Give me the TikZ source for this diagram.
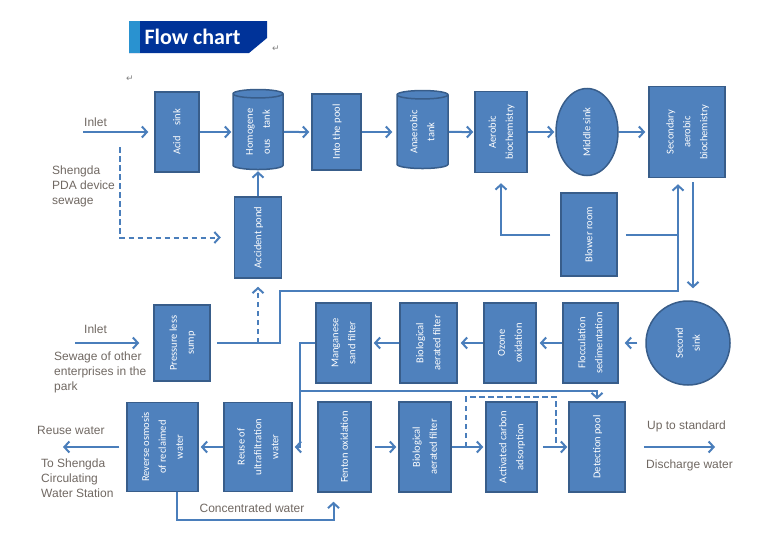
\documentclass[tikz,border=0pt]{standalone}
\usepackage{fontspec}
\setmainfont{Liberation Sans}
\newfontfamily\boxfont{Carlito}
\newfontfamily\symfont{DejaVu Sans}
\usetikzlibrary{arrows.meta,shapes.geometric,positioning}
\definecolor{boxblue}{RGB}{79,129,189}
\definecolor{boxline}{RGB}{56,93,138}
\definecolor{flowblue}{RGB}{74,126,187}
\definecolor{labelgray}{RGB}{112,104,98}
\definecolor{titleblue}{RGB}{0,51,153}
\definecolor{titlestrip}{RGB}{41,146,208}
\definecolor{tanktop}{RGB}{167,191,222}
\newcommand{\vtext}[1]{\rotatebox{90}{\renewcommand{\arraystretch}{1.35}\begin{tabular}{@{}c@{}}#1\end{tabular}}}
\tikzset{
    proc/.style={draw=boxline,fill=boxblue,line width=1.5pt,text=white,inner sep=0pt,
        font=\boxfont\fontsize{10.5}{12.5}\selectfont},
    tank/.style={proc,cylinder,shape border rotate=90,cylinder uses custom fill,
        cylinder body fill=boxblue,cylinder end fill=tanktop,aspect=0.25},
    sink/.style={proc,ellipse},
    pipe/.style={draw=flowblue,line width=2pt},
    flow/.style={pipe,-{Straight Barb[length=5pt,width=11pt]}},
    dash line/.style={dash pattern=on 5.5pt off 3.5pt},
    note/.style={text=labelgray,inner sep=1pt,align=left,font=\fontsize{12}{15}\selectfont},
    retmark/.style={text=gray,inner sep=0pt,font=\symfont\fontsize{9}{9}\selectfont},
}
\begin{document}
\begin{tikzpicture}[x=1pt,y=-1pt]
\useasboundingbox (0,0) rectangle (770,538);
\fill[titleblue] (129,21) -- (267,21) -- (267,38) -- (249,53) -- (129,53) -- cycle;
\fill[titlestrip] (129,21) rectangle (140,53);
\node[text=white,font=\boxfont\bfseries\fontsize{22}{24}\selectfont] (title) at (192.5,37) {Flow chart};
\node[retmark] (ret1) at (276,49) {↵};
\node[retmark] (ret2) at (130,79) {↵};

\node[proc,minimum width=44pt,minimum height=80pt] (acid) at (177,132) {\vtext{Acid\quad sink}};
\node[tank,minimum width=50pt,minimum height=80pt] (homog) at (258,132) {\vtext{Homogene\\ous\quad tank}};
\node[proc,minimum width=49pt,minimum height=76pt] (into) at (336.5,132) {\vtext{Into the pool}};
\node[tank,minimum width=51pt,minimum height=78pt] (anaer) at (422.5,132) {\vtext{Anaerobic\\tank}};
\node[proc,minimum width=52pt,minimum height=81pt] (aerobic) at (501,132) {\vtext{Aerobic\\biochemistry}};
\node[sink,minimum width=62pt,minimum height=87pt] (middle) at (587,132) {\vtext{Middle sink}};
\node[proc,minimum width=76pt,minimum height=91pt] (secondary) at (687,132) {\vtext{Secondary\\aerobic\\biochemistry}};
\node[proc,minimum width=56pt,minimum height=83pt] (blower) at (589,234.5) {\vtext{Blower room}};
\node[proc,minimum width=47pt,minimum height=81pt] (accident) at (258,237.5) {\vtext{Accident pond}};

\node[proc,minimum width=56pt,minimum height=76pt] (sump) at (182,343) {\vtext{Pressure less\\sump}};
\node[proc,minimum width=55pt,minimum height=80pt] (mang) at (343.5,343) {\vtext{Manganese\\sand filter}};
\node[proc,minimum width=57pt,minimum height=80pt] (bioA) at (428.5,343) {\vtext{Biological\\aerated filter}};
\node[proc,minimum width=52pt,minimum height=80pt] (ozone) at (510,343) {\vtext{Ozone\\oxidation}};
\node[proc,minimum width=55pt,minimum height=80pt] (floc) at (590.5,343) {\vtext{Flocculation\\sedimentation}};
\node[sink,minimum width=84pt,minimum height=84pt] (second) at (688,343) {\vtext{Second\\sink}};

\node[proc,minimum width=71pt,minimum height=89pt] (RO) at (162.5,447) {\vtext{Reverse osmosis\\of reclaimed\\water}};
\node[proc,minimum width=68pt,minimum height=89pt] (UF) at (258,447) {\vtext{Reuse of\\ultrafiltration\\water}};
\node[proc,minimum width=53pt,minimum height=90pt] (fenton) at (344.5,447) {\vtext{Fenton oxidation}};
\node[proc,minimum width=52pt,minimum height=90pt] (bioB) at (425,447) {\vtext{Biological\\aerated filter}};
\node[proc,minimum width=51pt,minimum height=90pt] (carbon) at (511.5,447) {\vtext{Activated carbon\\adsorption}};
\node[proc,minimum width=56pt,minimum height=90pt] (detect) at (597,447) {\vtext{Detection pool}};

\node[note,anchor=west] (inletA) at (83,122) {Inlet};
\node[note,anchor=north west] (pdaSrc) at (51,165) {Shengda\\PDA device\\sewage};
\node[note,anchor=west] (inletB) at (83,329) {Inlet};
\node[note,anchor=north west] (parkSrc) at (53,351) {Sewage of other\\enterprises in the\\park};
\node[note,anchor=west] (reuseLbl) at (36,430) {Reuse water};
\node[note,anchor=north west] (stationLbl) at (40,458) {To Shengda\\Circulating\\Water Station};
\node[note,anchor=west] (stdLbl) at (646,426) {Up to standard};
\node[note,anchor=west] (dischLbl) at (645,465) {Discharge water};
\node[note] (concLbl) at (252,508) {Concentrated water};

\coordinate (inA) at (83,132);
\coordinate (pdaTop) at (120,147);
\coordinate (secIn) at ([xshift=-9pt]secondary.south);
\coordinate (sumpBend) at (280,291);
\coordinate (inB) at (75,343);
\coordinate (mangBend) at (300,391);
\coordinate (reuseEnd) at (63,447);
\coordinate (outEnd) at (715,447);
\coordinate (bypA) at (466,447);
\coordinate (bypB) at (556,447);
\coordinate (concA) at ([xshift=14pt]RO.south);
\coordinate (concB) at ([xshift=-11pt]fenton.south);

\draw[flow,shorten >=6pt] (inA) -- (acid);
\draw[flow,shorten >=1pt] (acid) -- (homog);
\draw[flow,shorten >=2pt] (homog) -- (into);
\draw[flow,shorten >=4pt] (into) -- (anaer);
\draw[flow,shorten >=1pt] (anaer) -- (aerobic);
\draw[flow,shorten >=1pt] (aerobic) -- (middle);
\draw[flow,shorten >=3pt] (middle) -- (secondary);
\draw[flow,shorten <=10pt,shorten >=10pt] (blower.west) -| (aerobic);
\draw[pipe,shorten <=8pt] (blower.east) -- (blower.east -| secIn);
\draw[flow,shorten <=6pt,shorten >=6pt] (sump) -| (sumpBend) -| (secIn);
\draw[flow,dash line,shorten >=8pt] (accident |- sump) -- (accident);
\draw[flow,dash line,shorten >=13pt] (pdaTop) |- (accident);
\draw[flow,shorten >=1pt] (accident) -- (homog);
\draw[flow,shorten <=4pt,shorten >=12pt] ([xshift=6pt]secondary.south) -- ([xshift=5pt]second.north);

\draw[flow,shorten >=14pt] (inB) -- (sump);
\draw[flow,shorten <=8pt,shorten >=6pt] (second) -- (floc);
\draw[flow,shorten >=3pt] (floc) -- (ozone);
\draw[flow,shorten >=3pt] (ozone) -- (bioA);
\draw[flow,shorten >=2pt] (bioA) -- (mang);
\draw[flow,shorten >=2pt] (mang) -| (mangBend) |- (UF);
\draw[flow,shorten >=2pt] (mangBend) -| (detect);

\draw[flow,shorten >=2pt] (UF) -- (RO);
\draw[flow,shorten <=7pt] (RO) -- (reuseEnd);
\draw[flow,shorten <=3pt,shorten >=2pt] (fenton) -- (bioB);
\draw[flow,shorten >=2pt] (bioB) -- (carbon);
\draw[flow,shorten <=5pt,shorten >=1pt] (carbon) -- (detect);
\draw[pipe,dash line] (bypA) -- ++(0,-50) -| (bypB);
\draw[flow,shorten <=18pt] (detect) -- (outEnd);
\draw[flow,shorten >=9pt] (concA) -- ++(0,28) -| (concB);
\end{tikzpicture}
\end{document}
